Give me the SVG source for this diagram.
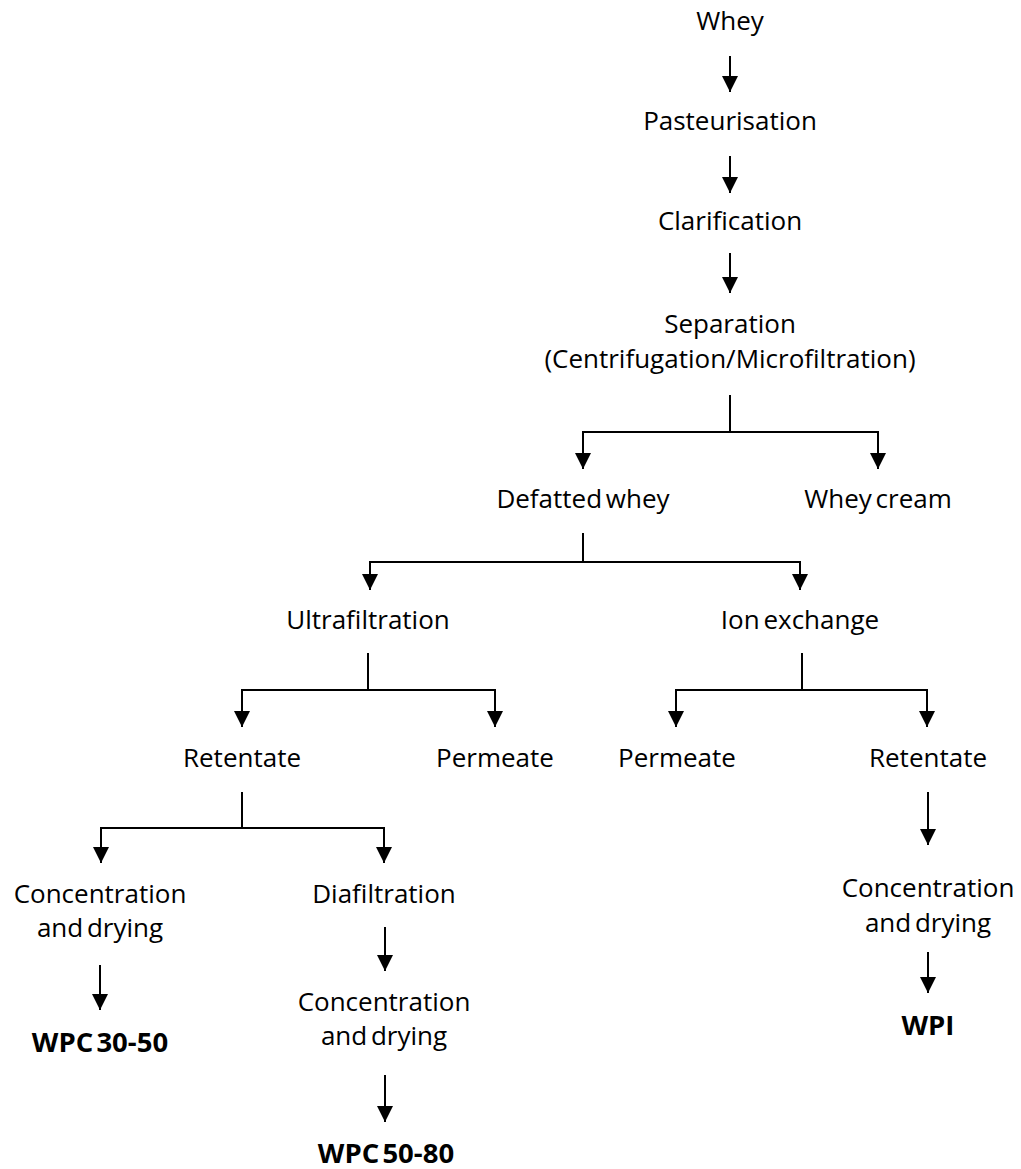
<svg xmlns="http://www.w3.org/2000/svg" width="1021" height="1169" viewBox="0 0 1021 1169">
<style>
text{font-family:"Open Sans","Noto Sans","Liberation Sans",sans-serif;font-size:26px;fill:#000;text-anchor:middle}
.b{font-weight:bold;font-size:27.5px}
.c line,.c path{stroke:#000;stroke-width:2;fill:none}
</style>
<defs>
<marker id="ah" markerUnits="userSpaceOnUse" markerWidth="16" markerHeight="16" refX="15" refY="7.5" orient="auto" viewBox="0 0 15 15">
<path d="M0,0 L15,7.5 L0,15 z" fill="#000"/>
</marker>
</defs>
<rect width="1021" height="1169" fill="#fff"/>
<g class="c" id="connectors">
<line x1="730" y1="56" x2="730" y2="92" marker-end="url(#ah)"/>
<line x1="730" y1="156" x2="730" y2="193" marker-end="url(#ah)"/>
<line x1="730" y1="253" x2="730" y2="293" marker-end="url(#ah)"/>
<line x1="730" y1="395" x2="730" y2="432" stroke-width="3"/>
<path d="M583,432 H878"/>
<line x1="583" y1="431" x2="583" y2="469" marker-end="url(#ah)"/>
<line x1="878" y1="431" x2="878" y2="469" marker-end="url(#ah)"/>
<line x1="583" y1="533" x2="583" y2="562" stroke-width="3"/>
<path d="M370,562 H800"/>
<line x1="370" y1="561" x2="370" y2="590" marker-end="url(#ah)"/>
<line x1="800" y1="561" x2="800" y2="590" marker-end="url(#ah)"/>
<line x1="368" y1="653" x2="368" y2="690" stroke-width="3"/>
<path d="M242,690 H495"/>
<line x1="242" y1="689" x2="242" y2="727" marker-end="url(#ah)"/>
<line x1="495" y1="689" x2="495" y2="727" marker-end="url(#ah)"/>
<line x1="802" y1="653" x2="802" y2="690" stroke-width="3"/>
<path d="M676,690 H927"/>
<line x1="676" y1="689" x2="676" y2="727" marker-end="url(#ah)"/>
<line x1="927" y1="689" x2="927" y2="727" marker-end="url(#ah)"/>
<line x1="242" y1="792" x2="242" y2="828" stroke-width="3"/>
<path d="M101,828 H384"/>
<line x1="101" y1="827" x2="101" y2="863" marker-end="url(#ah)"/>
<line x1="384" y1="827" x2="384" y2="863" marker-end="url(#ah)"/>
<line x1="100" y1="965" x2="100" y2="1010" marker-end="url(#ah)"/>
<line x1="385" y1="927" x2="385" y2="971" marker-end="url(#ah)"/>
<line x1="385" y1="1075" x2="385" y2="1122" marker-end="url(#ah)"/>
<line x1="928" y1="792" x2="928" y2="845" marker-end="url(#ah)"/>
<line x1="928" y1="952" x2="928" y2="993" marker-end="url(#ah)"/>
</g>
<g id="whey"><text x="730" y="30">Whey</text></g>
<g id="pasteurisation"><text x="730" y="130">Pasteurisation</text></g>
<g id="clarification"><text x="730" y="230">Clarification</text></g>
<g id="separation"><text x="730" y="333">Separation</text><text x="730" y="368">(Centrifugation/Microfiltration)</text></g>
<g id="defatted-whey"><text x="583" y="508" word-spacing="-3">Defatted whey</text></g>
<g id="whey-cream"><text x="878" y="508" word-spacing="-3">Whey cream</text></g>
<g id="ultrafiltration"><text x="368" y="629">Ultrafiltration</text></g>
<g id="ion-exchange"><text x="800" y="629" word-spacing="-3">Ion exchange</text></g>
<g id="retentate-uf"><text x="242" y="767">Retentate</text></g>
<g id="permeate-uf"><text x="495" y="767">Permeate</text></g>
<g id="permeate-ie"><text x="677" y="767">Permeate</text></g>
<g id="retentate-ie"><text x="928" y="767">Retentate</text></g>
<g id="conc-drying-1"><text x="100" y="903">Concentration</text><text x="100" y="937" word-spacing="-3">and drying</text></g>
<g id="diafiltration"><text x="384" y="903">Diafiltration</text></g>
<g id="conc-drying-2"><text x="384" y="1011">Concentration</text><text x="384" y="1045" word-spacing="-3">and drying</text></g>
<g id="conc-drying-3"><text x="928" y="897">Concentration</text><text x="928" y="932" word-spacing="-3">and drying</text></g>
<g id="wpc-30-50"><text class="b" x="100" y="1052" word-spacing="-4">WPC 30-50</text></g>
<g id="wpc-50-80"><text class="b" x="386" y="1163" word-spacing="-4">WPC 50-80</text></g>
<g id="wpi"><text class="b" x="928" y="1035">WPI</text></g>
</svg>
